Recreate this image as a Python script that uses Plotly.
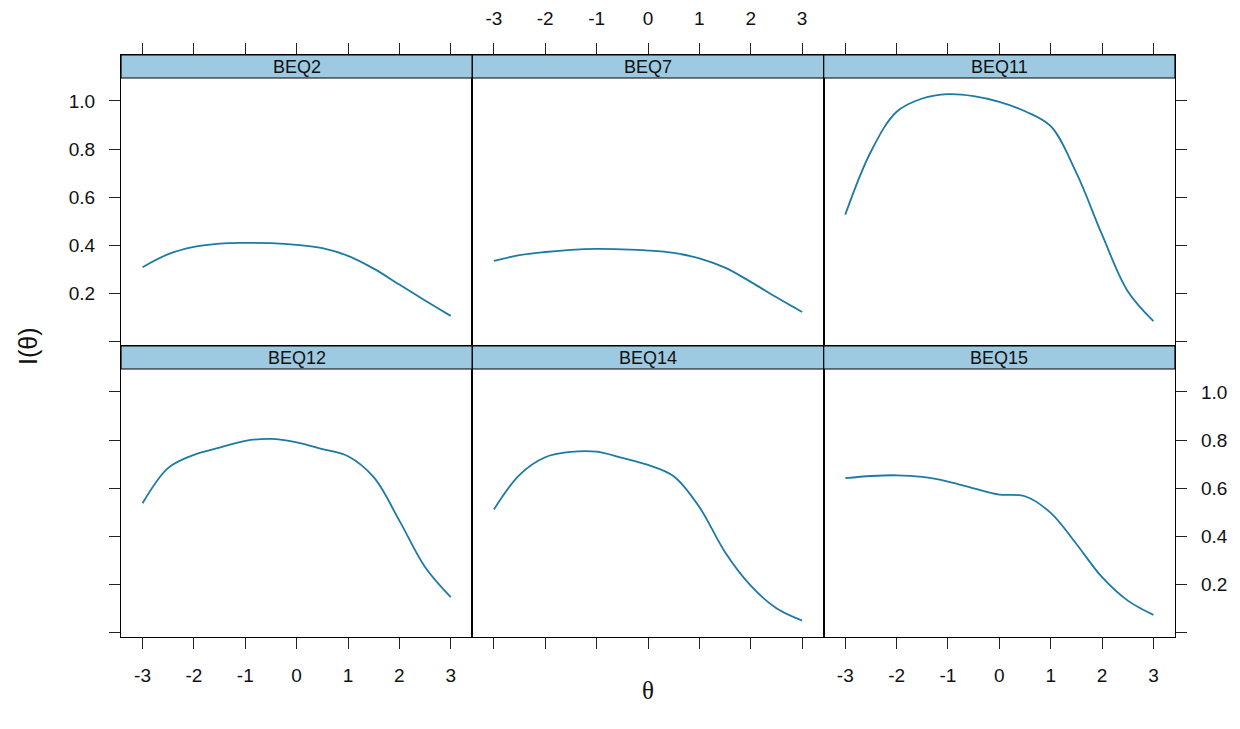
import plotly.graph_objects as go

# ---------------- data ----------------
theta = [-3.0, -2.5, -2.0, -1.5, -1.0, -0.5, 0.0, 0.5, 1.0, 1.5, 2.0, 2.5, 3.0]
panel_names = ["BEQ2", "BEQ7", "BEQ11", "BEQ12", "BEQ14", "BEQ15"]
info_beq2 = [0.310, 0.364, 0.394, 0.408, 0.411, 0.410, 0.403, 0.389, 0.357, 0.304, 0.238, 0.172, 0.108]
info_beq7 = [0.336, 0.360, 0.373, 0.382, 0.386, 0.384, 0.379, 0.369, 0.347, 0.308, 0.249, 0.185, 0.124]
info_beq11 = [0.528, 0.790, 0.955, 1.010, 1.028, 1.020, 0.996, 0.957, 0.895, 0.701, 0.445, 0.210, 0.086]
info_beq12 = [0.538, 0.685, 0.739, 0.769, 0.797, 0.805, 0.791, 0.763, 0.733, 0.646, 0.466, 0.273, 0.148]
info_beq14 = [0.512, 0.656, 0.729, 0.751, 0.752, 0.726, 0.697, 0.650, 0.522, 0.335, 0.196, 0.102, 0.051]
info_beq15 = [0.642, 0.651, 0.654, 0.647, 0.628, 0.600, 0.574, 0.567, 0.498, 0.369, 0.231, 0.134, 0.075]
x_ticks = [-3, -2, -1, 0, 1, 2, 3]
y_ticks = [0.0, 0.2, 0.4, 0.6, 0.8, 1.0]
y_ticklabels = ["", "0.2", "0.4", "0.6", "0.8", "1.0"]
series = [info_beq2, info_beq7, info_beq11, info_beq12, info_beq14, info_beq15]

# ---------------- layout geometry (pixels) ----------------
W, H = 1240, 729
col_edges = [121, 472.3, 823.7, 1175]
row_tops = [55, 346]
row_bottoms = [346, 637]
strip_h = 23
plot_h = 268
y_min = -0.017
y_per_px = (1.095 - y_min) / plot_h
y_max_full = y_min + (plot_h + strip_h) * y_per_px

def fx(px):
    return px / W

def fy(py):
    return 1 - py / H

LINE_COLOR = "#1d7aa3"
STRIP_COLOR = "#9ecae1"
TXT = "#111111"
FONT = "Liberation Sans, Arial, sans-serif"

fig = go.Figure()
layout = {}
shapes = []
annotations = []

for i, (name, vals) in enumerate(zip(panel_names, series)):
    r, c = divmod(i, 3)
    ax = "" if i == 0 else str(i + 1)
    fig.add_trace(go.Scatter(
        x=theta, y=vals, mode="lines",
        line=dict(color=LINE_COLOR, width=1.8, shape="spline", smoothing=1.0),
        xaxis="x" + ax, yaxis="y" + ax, showlegend=False, hoverinfo="skip"))

    x_dom = [fx(col_edges[c]), fx(col_edges[c + 1])]
    y_dom = [fy(row_bottoms[r]), fy(row_tops[r])]

    if r == 0:
        xside = "top"
        xlabels = (c == 1)
    else:
        xside = "bottom"
        xlabels = (c != 1)

    layout["xaxis" + ax] = dict(
        domain=x_dom, anchor="y" + ax, range=[-3.42, 3.42],
        side=xside, ticks="outside", ticklen=11, tickwidth=1.2, tickcolor="#222222",
        tickvals=x_ticks, ticktext=[str(t) for t in x_ticks], showticklabels=xlabels,
        ticklabelstandoff=10,
        showline=True, linecolor="#000000", linewidth=1.2, mirror=True,
        showgrid=False, zeroline=False,
        tickfont=dict(family=FONT, size=19, color=TXT))

    yax = dict(
        domain=y_dom, anchor="x" + ax, range=[y_min, y_max_full],
        tickvals=y_ticks, ticktext=y_ticklabels,
        showline=True, linecolor="#000000", linewidth=1.2, mirror=True,
        showgrid=False, zeroline=False,
        tickfont=dict(family=FONT, size=19, color=TXT))
    if c == 0:
        yax.update(side="left", ticks="outside", ticklen=11, tickwidth=1.2,
                   tickcolor="#222222", showticklabels=(r == 0), ticklabelstandoff=10)
    elif c == 2:
        yax.update(side="right", ticks="outside", ticklen=11, tickwidth=1.2,
                   tickcolor="#222222", showticklabels=(r == 1), ticklabelstandoff=10)
    else:
        yax.update(ticks="", showticklabels=False)
    layout["yaxis" + ax] = yax

    # strip
    s_top = row_tops[r]
    s_bot = row_tops[r] + strip_h
    shapes.append(dict(type="rect", xref="paper", yref="paper",
                       x0=fx(col_edges[c]), x1=fx(col_edges[c + 1]),
                       y0=fy(s_bot), y1=fy(s_top),
                       fillcolor=STRIP_COLOR, line=dict(color="#000000", width=1.2),
                       layer="above"))
    annotations.append(dict(text=name, xref="paper", yref="paper",
                            x=(fx(col_edges[c]) + fx(col_edges[c + 1])) / 2,
                            y=(fy(s_bot) + fy(s_top)) / 2,
                            showarrow=False, xanchor="center", yanchor="middle",
                            font=dict(family=FONT, size=18, color=TXT)))

# axis titles
annotations.append(dict(text="θ", xref="paper", yref="paper",
                        x=fx(648), y=fy(690), showarrow=False,
                        xanchor="center", yanchor="middle",
                        font=dict(family="Liberation Serif, serif", size=25, color=TXT)))
annotations.append(dict(text="I(θ)", xref="paper", yref="paper",
                        x=fx(28), y=fy(346), showarrow=False, textangle=-90,
                        xanchor="center", yanchor="middle",
                        font=dict(family=FONT, size=25, color=TXT)))

fig.update_layout(
    width=W, height=H,
    margin=dict(l=0, r=0, t=0, b=0),
    paper_bgcolor="white", plot_bgcolor="white",
    shapes=shapes, annotations=annotations,
    **layout)

fig.write_html("out.html")
